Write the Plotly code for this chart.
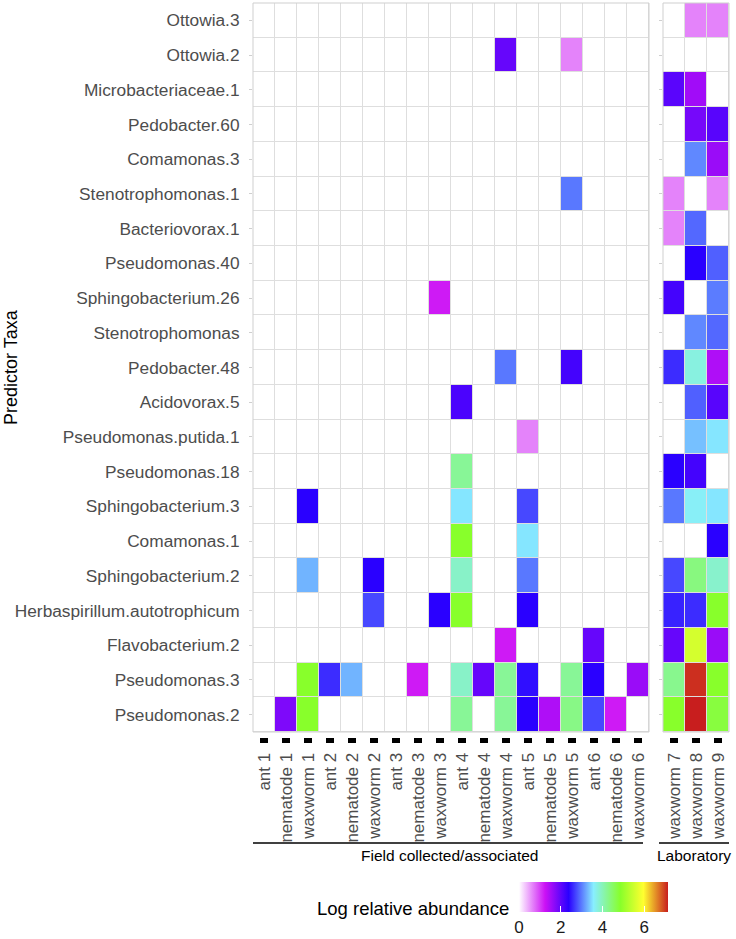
import plotly.graph_objects as go

taxa = ["Ottowia.3", "Ottowia.2", "Microbacteriaceae.1", "Pedobacter.60", "Comamonas.3",
        "Stenotrophomonas.1", "Bacteriovorax.1", "Pseudomonas.40", "Sphingobacterium.26",
        "Stenotrophomonas", "Pedobacter.48", "Acidovorax.5", "Pseudomonas.putida.1",
        "Pseudomonas.18", "Sphingobacterium.3", "Comamonas.1", "Sphingobacterium.2",
        "Herbaspirillum.autotrophicum", "Flavobacterium.2", "Pseudomonas.3", "Pseudomonas.2"]

field_samples = ["ant 1", "nematode 1", "waxworm 1", "ant 2", "nematode 2", "waxworm 2",
                 "ant 3", "nematode 3", "waxworm 3", "ant 4", "nematode 4", "waxworm 4",
                 "ant 5", "nematode 5", "waxworm 5", "ant 6", "nematode 6", "waxworm 6"]
lab_samples = ["waxworm 7", "waxworm 8", "waxworm 9"]

# field values: one list of 18 per taxon (top to bottom)
field_values = [
    [0, 0, 0, 0, 0, 0, 0, 0, 0, 0, 0, 0, 0, 0, 0, 0, 0, 0],
    [0, 0, 0, 0, 0, 0, 0, 0, 0, 0, 0, 1.96, 0, 0, 0.65, 0, 0, 0],
    [0, 0, 0, 0, 0, 0, 0, 0, 0, 0, 0, 0, 0, 0, 0, 0, 0, 0],
    [0, 0, 0, 0, 0, 0, 0, 0, 0, 0, 0, 0, 0, 0, 0, 0, 0, 0],
    [0, 0, 0, 0, 0, 0, 0, 0, 0, 0, 0, 0, 0, 0, 0, 0, 0, 0],
    [0, 0, 0, 0, 0, 0, 0, 0, 0, 0, 0, 0, 0, 0, 2.98, 0, 0, 0],
    [0, 0, 0, 0, 0, 0, 0, 0, 0, 0, 0, 0, 0, 0, 0, 0, 0, 0],
    [0, 0, 0, 0, 0, 0, 0, 0, 0, 0, 0, 0, 0, 0, 0, 0, 0, 0],
    [0, 0, 0, 0, 0, 0, 0, 0, 1.2, 0, 0, 0, 0, 0, 0, 0, 0, 0],
    [0, 0, 0, 0, 0, 0, 0, 0, 0, 0, 0, 0, 0, 0, 0, 0, 0, 0],
    [0, 0, 0, 0, 0, 0, 0, 0, 0, 0, 0, 2.98, 0, 0, 2.2, 0, 0, 0],
    [0, 0, 0, 0, 0, 0, 0, 0, 0, 2.15, 0, 0, 0, 0, 0, 0, 0, 0],
    [0, 0, 0, 0, 0, 0, 0, 0, 0, 0, 0, 0, 0.65, 0, 0, 0, 0, 0],
    [0, 0, 0, 0, 0, 0, 0, 0, 0, 4.2, 0, 0, 0, 0, 0, 0, 0, 0],
    [0, 0, 2.38, 0, 0, 0, 0, 0, 0, 3.53, 0, 0, 2.74, 0, 0, 0, 0, 0],
    [0, 0, 0, 0, 0, 0, 0, 0, 0, 4.85, 0, 0, 3.53, 0, 0, 0, 0, 0],
    [0, 0, 3.28, 0, 0, 2.38, 0, 0, 0, 3.9, 0, 0, 2.98, 0, 0, 0, 0, 0],
    [0, 0, 0, 0, 0, 2.74, 0, 0, 2.38, 4.85, 0, 0, 2.38, 0, 0, 0, 0, 0],
    [0, 0, 0, 0, 0, 0, 0, 0, 0, 0, 0, 1.2, 0, 0, 0, 1.96, 0, 0],
    [0, 0, 4.85, 2.6, 3.28, 0, 0, 1.2, 0, 3.9, 1.96, 4.2, 2.45, 0, 4.2, 2.38, 0, 1.6],
    [0, 1.79, 4.85, 0, 0, 0, 0, 0, 0, 4.2, 0, 4.2, 2.38, 1.45, 4.3, 2.74, 1.2, 0],
]

lab_values = [
    [0, 0.65, 0.65],
    [0, 0, 0],
    [2.04, 1.55, 0],
    [0, 1.85, 2.06],
    [0, 3.06, 1.6],
    [0.65, 0, 0.65],
    [0.65, 2.9, 0],
    [0, 2.38, 2.86],
    [2.2, 0, 3.0],
    [0, 3.06, 2.9],
    [2.6, 3.76, 1.45],
    [0, 2.86, 2.06],
    [0, 3.34, 3.53],
    [2.38, 2.2, 0],
    [2.98, 3.62, 3.53],
    [0, 0, 2.38],
    [2.74, 4.34, 3.88],
    [2.55, 2.6, 4.85],
    [1.96, 5.56, 1.6],
    [4.25, 7.05, 4.85],
    [4.85, 7.14, 4.73],
]

cbar_ticks = [0, 2, 4, 6]
zmax = 7.14

colorscale = [
    [0.0, "#ffffff"],
    [0.175, "#cc11f5"],
    [0.333, "#2a00ff"],
    [0.5, "#88eeff"],
    [0.68, "#88ff2a"],
    [0.835, "#ffff30"],
    [1.0, "#c81e1e"],
]

FONT = "Liberation Sans, Arial, sans-serif"
W, H = 736, 939
ML, MR, MT, MB = 253, 7, 3, 202
PW, PH = W - ML - MR, H - MT - MB


def px_x(x):
    return (x - ML) / PW


def px_y(y):
    return (H - MB - y) / PH


fig = go.Figure()
fig.add_trace(go.Heatmap(z=field_values, x=field_samples, y=taxa, coloraxis="coloraxis",
                         xgap=1, ygap=1, xaxis="x", yaxis="y"))
fig.add_trace(go.Heatmap(z=lab_values, x=lab_samples, y=taxa, coloraxis="coloraxis",
                         xgap=1, ygap=1, xaxis="x2", yaxis="y2"))

dbot = 5 / PH
xcommon = dict(type="category", ticks="outside", ticklen=5, tickwidth=8, tickcolor="black",
               tickangle=-90, showgrid=False, showline=False, zeroline=False,
               tickfont=dict(family=FONT, size=17, color="#4d4d4d"),
               anchor="free", position=0, ticklabelstandoff=3)
ycommon = dict(type="category", autorange="reversed", ticks="outside", ticklen=3,
               tickcolor="#cfcfcf", tickwidth=1, showgrid=False, zeroline=False,
               showline=False, domain=[dbot, 1])

fig.update_layout(
    width=W, height=H,
    margin=dict(l=ML, r=MR, t=MT, b=MB, autoexpand=False),
    paper_bgcolor="white", plot_bgcolor="#dedede",
    showlegend=False,
    xaxis=dict(domain=[0, 396 / PW], **xcommon),
    xaxis2=dict(domain=[410 / PW, 1], **xcommon),
    yaxis=dict(anchor="x", tickfont=dict(family=FONT, size=17.3, color="#4d4d4d"),
               ticklabelstandoff=6, **ycommon),
    yaxis2=dict(anchor="x2", matches="y", showticklabels=False, **ycommon),
    coloraxis=dict(
        colorscale=colorscale, cmin=0, cmax=zmax,
        colorbar=dict(orientation="h", x=px_x(593.5), xanchor="center",
                      y=px_y(882), yanchor="top", len=149, lenmode="pixels",
                      thickness=30, thicknessmode="pixels", xpad=0, ypad=0,
                      tickvals=cbar_ticks, ticks="inside", tickcolor="white",
                      ticklen=6, tickwidth=1, outlinewidth=0,
                      tickfont=dict(family=FONT, size=17, color="#1a1a1a")),
    ),
    shapes=[
        dict(type="rect", xref="x domain", yref="y domain", x0=0, x1=1, y0=0, y1=1,
             line=dict(color="#cfcfcf", width=1)),
        dict(type="rect", xref="x2 domain", yref="y2 domain", x0=0, x1=1, y0=0, y1=1,
             line=dict(color="#cfcfcf", width=1)),
        dict(type="line", xref="paper", yref="paper", x0=px_x(253), x1=px_x(643),
             y0=px_y(843), y1=px_y(843), line=dict(color="black", width=1.5)),
        dict(type="line", xref="paper", yref="paper", x0=px_x(659), x1=px_x(729),
             y0=px_y(843), y1=px_y(843), line=dict(color="black", width=1.5)),
    ],
    annotations=[
        dict(text="Predictor Taxa", xref="paper", yref="paper", x=px_x(11), y=px_y(367),
             xanchor="center", yanchor="middle", textangle=-90, showarrow=False,
             font=dict(family=FONT, size=18, color="black")),
        dict(text="Field collected/associated", xref="paper", yref="paper",
             x=px_x(450), y=px_y(855), xanchor="center", yanchor="middle",
             showarrow=False, font=dict(family=FONT, size=15.5, color="black")),
        dict(text="Laboratory", xref="paper", yref="paper",
             x=px_x(694), y=px_y(855), xanchor="center", yanchor="middle",
             showarrow=False, font=dict(family=FONT, size=15.5, color="black")),
        dict(text="Log relative abundance", xref="paper", yref="paper",
             x=px_x(511), y=px_y(908), xanchor="right", yanchor="middle",
             showarrow=False, font=dict(family=FONT, size=18.5, color="black")),
    ],
)

fig.write_html("out.html", config={"displayModeBar": False},
               post_script="document.body.style.margin='0';")
